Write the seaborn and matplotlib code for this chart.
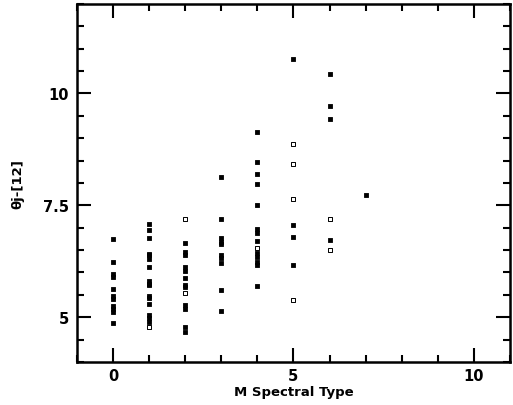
import numpy as np
import pandas as pd
import matplotlib
matplotlib.use("Agg")
import matplotlib.pyplot as plt
import seaborn as sns
from matplotlib.ticker import MultipleLocator

# spectral type (x) and colour (y)
spt_0 = [6.74, 6.23, 5.96, 5.90, 5.64, 5.47, 5.40, 5.26, 5.18, 5.12, 4.86]
spt_1 = [7.08, 6.94, 6.76, 6.42, 6.38, 6.29, 6.12, 5.80, 5.75, 5.71, 5.48, 5.42,
         5.29, 5.05, 4.99, 4.90, 4.77]
spt_2 = [7.20, 6.65, 6.46, 6.39, 6.13, 6.04, 5.88, 5.73, 5.67, 5.55, 5.27, 5.19,
         4.77, 4.67]
spt_3 = [8.13, 7.20, 6.78, 6.68, 6.64, 6.40, 6.33, 6.21, 5.61, 5.13]
spt_4 = [9.14, 8.47, 8.21, 7.97, 7.51, 6.98, 6.89, 6.70, 6.54, 6.43, 6.35, 6.23,
         6.16, 5.70]
spt_5 = [10.76, 8.88, 8.43, 7.63, 7.05, 6.80, 6.17, 5.39]
spt_6 = [10.44, 9.71, 9.42, 7.20, 6.73, 6.50]
spt_7 = [7.72]

# points drawn as open squares in the original
open_pts = [(1, 4.77), (2, 7.20), (2, 5.55), (4, 6.54), (5, 8.88), (5, 8.43),
            (5, 7.63), (5, 5.39), (6, 7.20), (6, 6.50)]

cols = [spt_0, spt_1, spt_2, spt_3, spt_4, spt_5, spt_6, spt_7]
rows = []
for t, vals in enumerate(cols):
    for v in vals:
        rows.append({"spt": t, "col": v, "open": (t, v) in open_pts})
df = pd.DataFrame(rows)

sns.set_style("ticks")
plt.rcParams['font.family'] = ['DejaVu Sans']

fig = plt.figure(figsize=(5.13, 4.06), dpi=100)
ax = fig.add_axes([0.150, 0.106, 0.844, 0.882])

sns.scatterplot(data=df[~df["open"]], x="spt", y="col", ax=ax, marker="s",
                s=6.5, color="black", edgecolor="black", linewidth=0.6)
sns.scatterplot(data=df[df["open"]], x="spt", y="col", ax=ax, marker="s",
                s=5, facecolor="white", edgecolor="black", linewidth=0.7)

ax.set_xlim(-1, 11)
ax.set_ylim(4, 12)
ax.xaxis.set_major_locator(MultipleLocator(5))
ax.xaxis.set_minor_locator(MultipleLocator(1))
ax.yaxis.set_major_locator(MultipleLocator(2.5))
ax.yaxis.set_minor_locator(MultipleLocator(0.5))
ax.set_yticks([5, 7.5, 10])
ax.set_yticklabels(["5", "7.5", "10"])

ax.tick_params(which="both", direction="in", top=True, right=True, width=1.5,
               labelsize=10.5, color="black", labelcolor="black")
ax.tick_params(axis="x", pad=4)
ax.tick_params(axis="y", pad=6)
ax.tick_params(which="major", length=10)
ax.tick_params(which="minor", length=5)
for lab in ax.get_xticklabels() + ax.get_yticklabels():
    lab.set_fontweight("bold")
for sp in ax.spines.values():
    sp.set_linewidth(1.8)
    sp.set_color("black")
    sp.set_visible(True)

ax.set_xlabel("M Spectral Type", fontsize=9.5, fontweight="bold", labelpad=2,
              color="black")
ax.set_ylabel("θj-[12]", fontsize=9.5, fontweight="bold", labelpad=13,
              color="black")

fig.savefig("out.png", dpi=100)
